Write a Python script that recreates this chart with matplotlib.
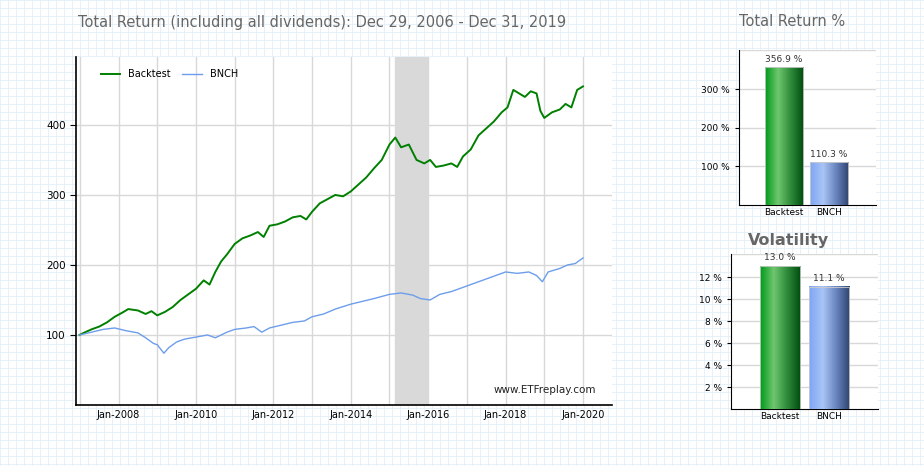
import matplotlib.pyplot as plt
import numpy as np
from matplotlib.patches import Rectangle
from matplotlib.colors import LinearSegmentedColormap

# Data (decimal year, value)
bt_t = [2006.99, 2007.1, 2007.3, 2007.5, 2007.7, 2007.9, 2008.1, 2008.25, 2008.5, 2008.7, 2008.85, 2009.0,
        2009.2, 2009.4, 2009.6, 2009.8, 2010.0, 2010.2, 2010.35, 2010.5, 2010.65, 2010.8, 2011.0, 2011.2,
        2011.4, 2011.6, 2011.75, 2011.9, 2012.1, 2012.3, 2012.5, 2012.7, 2012.85, 2013.0, 2013.2, 2013.4,
        2013.6, 2013.8, 2014.0, 2014.2, 2014.4, 2014.6, 2014.8, 2015.0, 2015.15, 2015.3, 2015.5, 2015.7,
        2015.9, 2016.05, 2016.2, 2016.4, 2016.6, 2016.75, 2016.9, 2017.1, 2017.3, 2017.5, 2017.7, 2017.9,
        2018.05, 2018.2, 2018.35, 2018.5, 2018.65, 2018.8, 2018.9, 2019.0, 2019.2, 2019.4, 2019.55, 2019.7,
        2019.85, 2020.0]
bt_v = [100, 103, 108, 112, 118, 126, 132, 137, 135, 130, 134, 128,
        133, 140, 150, 158, 166, 178, 172, 190, 205, 215, 230, 238,
        242, 247, 240, 256, 258, 262, 268, 270, 265, 276, 288, 294,
        300, 298, 305, 315, 325, 338, 350, 372, 382, 368, 372, 350,
        345, 350, 340, 342, 345, 340, 355, 365, 385, 395, 405, 418,
        425, 450, 445, 440, 448, 445, 420, 410, 418, 422, 430, 425,
        450, 455]
bn_t = [2006.99, 2007.3, 2007.6, 2007.9, 2008.2, 2008.5, 2008.7, 2008.9, 2009.0, 2009.17, 2009.3, 2009.5,
        2009.7, 2010.0, 2010.3, 2010.5, 2010.8, 2011.0, 2011.3, 2011.5, 2011.7, 2011.9, 2012.2, 2012.5,
        2012.8, 2013.0, 2013.3, 2013.6, 2014.0, 2014.3, 2014.6, 2015.0, 2015.3, 2015.6, 2015.8, 2016.05,
        2016.3, 2016.6, 2017.0, 2017.3, 2017.6, 2018.0, 2018.3, 2018.6, 2018.8, 2018.95, 2019.1, 2019.4,
        2019.6, 2019.8, 2020.0]
bn_v = [100, 104, 108, 110, 106, 103, 96, 88, 86, 74, 82, 90,
        94, 97, 100, 96, 104, 108, 110, 112, 104, 110, 114, 118,
        120, 126, 130, 137, 144, 148, 152, 158, 160, 157, 152, 150,
        158, 162, 170, 176, 182, 190, 188, 190, 185, 176, 190, 195,
        200, 202, 210]
shade = (2015.14, 2015.97)
tick_years = [2008, 2010, 2012, 2014, 2016, 2018, 2020]
tick_labels = ["Jan-2008", "Jan-2010", "Jan-2012", "Jan-2014", "Jan-2016", "Jan-2018", "Jan-2020"]

names = ["Backtest", "BNCH"]
total_ret = [356.9, 110.3]
vol = [13.0, 11.1]

W, H = 924, 466
fig = plt.figure(figsize=(9.24, 4.66), dpi=100)

def rect(x0, y0, x1, y1):
    return [x0 / W, 1 - y1 / H, (x1 - x0) / W, (y1 - y0) / H]

# background grid paper
bg = fig.add_axes([0, 0, 1, 1])
bg.set_xlim(0, W); bg.set_ylim(H, 0); bg.axis("off")
for x in np.arange(0, W, 8):
    bg.axvline(x, color="#e3eff8", lw=0.6)
for y in np.arange(0, H, 8):
    bg.axhline(y, color="#e3eff8", lw=0.6)
for x0, y0, x1, y1 in [(22, 42, 623, 440), (700, 42, 885, 222), (700, 228, 885, 440)]:
    bg.add_patch(Rectangle((x0, y0), x1 - x0, y1 - y0, facecolor="white", edgecolor="none"))
bg.text(322, 22, "Total Return (including all dividends): Dec 29, 2006 - Dec 31, 2019",
        ha="center", va="center", fontsize=10.5, color="#666666")
bg.text(792, 22, "Total Return %", ha="center", va="center", fontsize=10.5, color="#666666")
bg.text(788, 241, "Volatility", ha="center", va="center", fontsize=11.5, color="#666666", fontweight="bold")

# main line chart
ax = fig.add_axes(rect(76, 57, 612, 405))
ax.axvspan(*shade, color="#d9d9d9", zorder=1)
ax.plot(bt_t, bt_v, color="#008000", lw=1.4, label="Backtest", zorder=3)
ax.plot(bn_t, bn_v, color="#6d9eeb", lw=1.0, label="BNCH", zorder=3)
ax.set_xlim(2006.9, 2020.75)
ax.set_ylim(0, 497)
ax.set_yticks([100, 200, 300, 400])
ax.set_xticks(range(2007, 2021), minor=True)
ax.set_xticks(tick_years)
ax.set_xticklabels(tick_labels, fontsize=7)
ax.tick_params(axis="y", labelsize=7.5, length=4)
ax.tick_params(axis="x", which="both", length=0)
ax.grid(True, which="both", color="#d8d8d8", lw=1, zorder=0)
ax.set_axisbelow(True)
for s in ["top", "right"]:
    ax.spines[s].set_visible(False)
ax.spines["left"].set_linewidth(1.2)
ax.spines["bottom"].set_linewidth(1.2)
ax.legend(loc="upper left", ncol=2, frameon=False, fontsize=7, handlelength=2,
          bbox_to_anchor=(0.03, 0.99), columnspacing=1.2)
ax.text(0.97, 0.03, "www.ETFreplay.com", transform=ax.transAxes, ha="right", va="bottom",
        fontsize=7.5, color="#222222")

green = LinearSegmentedColormap.from_list("g", ["#009a1a", "#6fc66f", "#2e8b3a", "#004d0f"])
blue = LinearSegmentedColormap.from_list("b", ["#7ea6f4", "#a9c4f5", "#6a86c0", "#2f4470"])
grad = np.linspace(0, 1, 64).reshape(1, -1)

def bars(a, vals, fmt, width):
    top = a.get_ylim()[1]
    for i, (v, cm) in enumerate(zip(vals, [green, blue])):
        a.imshow(grad, cmap=cm, extent=(i - width / 2, i + width / 2, 0, v), aspect="auto", zorder=3)
        a.add_patch(Rectangle((i - width / 2, 0), width, v, fill=False, edgecolor="#cccccc", lw=0.6, zorder=4))
        a.text(i, v + top * 0.025, fmt % v, ha="center", va="bottom", fontsize=6.5, color="#333333")
    a.set_xticks([0, 1])
    a.set_xticklabels(names, fontsize=6.5)
    a.tick_params(axis="x", length=0, pad=2)
    a.tick_params(axis="y", labelsize=6.5, length=3)
    a.grid(True, axis="y", color="#d8d8d8", lw=1)
    a.axhline(top, color="#d8d8d8", lw=1, zorder=0)
    a.set_axisbelow(True)
    for s in ["top", "right"]:
        a.spines[s].set_visible(False)

a1 = fig.add_axes(rect(739, 50, 876, 205))
a1.set_xlim(-1, 2.04); a1.set_ylim(0, 402)
a1.set_yticks([100, 200, 300]); a1.set_yticklabels(["100 %", "200 %", "300 %"])
bars(a1, total_ret, "%.1f %%", 0.85)
a1.set_xlim(-1, 2.04); a1.set_ylim(0, 402)

a2 = fig.add_axes(rect(731, 254, 878, 409))
a2.set_xlim(-1, 2.0); a2.set_ylim(0, 14.1)
a2.set_yticks([2, 4, 6, 8, 10, 12]); a2.set_yticklabels(["%d %%" % t for t in [2, 4, 6, 8, 10, 12]])
bars(a2, vol, "%.1f %%", 0.82)
a2.set_xlim(-1, 2.0); a2.set_ylim(0, 14.1)

fig.savefig("out.png", dpi=100)
